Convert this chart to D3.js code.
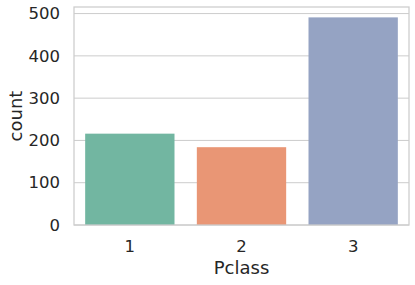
<!DOCTYPE html>
<meta charset="utf-8">
<style>
body { margin: 0; background: #fff; }
text { font-family: "DejaVu Sans", sans-serif; fill: #262626; }
</style>
<body>
<script src="https://d3js.org/d3.v7.min.js"></script>
<script>
var classes = ["1", "2", "3"];
var counts = [216, 184, 491];
var colors = ["#72b6a1", "#e99675", "#95a3c3"];
var yTicks = [0, 100, 200, 300, 400, 500];

var margin = {top: 7, right: 6, bottom: 60, left: 74},
    width = 415 - margin.left - margin.right,
    height = 285 - margin.top - margin.bottom;

var x = d3.scaleBand().domain(classes).range([0, width]).paddingInner(0.2).paddingOuter(0.1);
var y = d3.scaleLinear().domain([0, d3.max(counts) * 1.05]).range([height, 0]);

var svg = d3.select("body").append("svg")
    .attr("width", 415)
    .attr("height", 285);
var g = svg.append("g")
    .attr("transform", "translate(" + margin.left + "," + margin.top + ")");

// grid
g.selectAll(".grid")
    .data(yTicks)
  .enter().append("line")
    .attr("x1", 0).attr("x2", width)
    .attr("y1", function(d) { return y(d); })
    .attr("y2", function(d) { return y(d); })
    .attr("stroke", "#cccccc")
    .attr("stroke-width", 1);

g.selectAll(".bar")
    .data(counts)
  .enter().append("rect")
    .attr("x", function(d, i) { return x(classes[i]); })
    .attr("width", x.bandwidth())
    .attr("y", function(d) { return y(d); })
    .attr("height", function(d) { return height - y(d); })
    .attr("fill", function(d, i) { return colors[i]; });

// frame
g.append("rect")
    .attr("width", width).attr("height", height)
    .attr("fill", "none")
    .attr("stroke", "#cccccc")
    .attr("stroke-width", 1.25);

var yAxis = g.append("g")
    .call(d3.axisLeft(y).tickValues(yTicks).tickSize(0).tickPadding(14));
yAxis.select(".domain").remove();
yAxis.selectAll("text").style("font-size", "16.5px").attr("fill", "#262626");

var xAxis = g.append("g")
    .attr("transform", "translate(0," + height + ")")
    .call(d3.axisBottom(x).tickSize(0).tickPadding(15));
xAxis.select(".domain").remove();
xAxis.selectAll("text").style("font-size", "16.5px").attr("fill", "#262626");

svg.append("text")
    .attr("transform", "translate(16," + (margin.top + height / 2) + ") rotate(-90)")
    .attr("text-anchor", "middle")
    .attr("dy", "0.35em")
    .style("font-size", "18px")
    .text("count");

svg.append("text")
    .attr("x", margin.left + width / 2)
    .attr("y", 274)
    .attr("text-anchor", "middle")
    .style("font-size", "18px")
    .text("Pclass");
</script>
